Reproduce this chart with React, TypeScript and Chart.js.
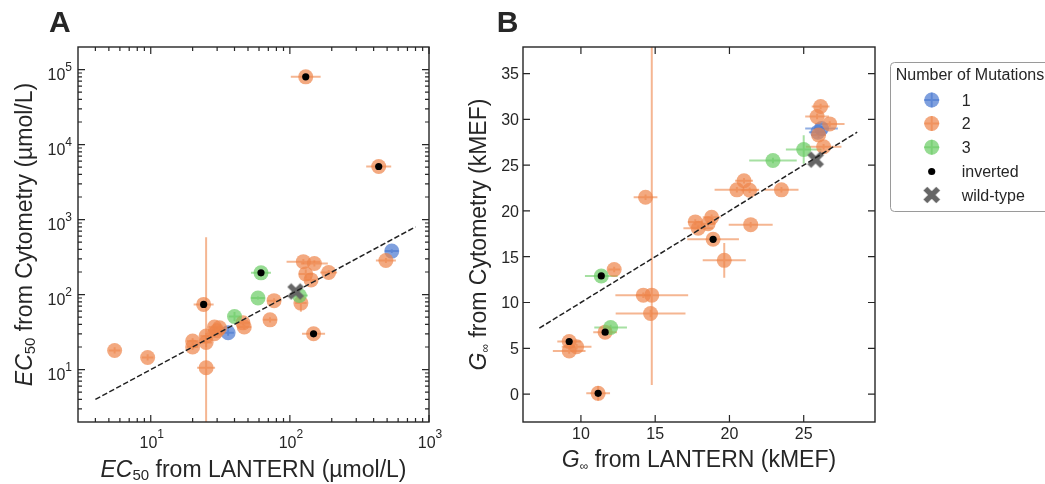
import React, { useEffect, useRef } from "react";
import { Chart, registerables } from "chart.js";

Chart.register(...registerables);

const FONT = '"Liberation Sans", Arial, Helvetica, sans-serif';
const INK = "#262626";
const BLUE = "72,120,208";
const ORANGE = "238,133,74";
const GREEN = "106,204,100";

// ---------- Panel A : EC50, log-log ----------
// [x from LANTERN, y from Cytometry, x error factor, y error factor]
const oneMutA: number[][] = [
  [36, 31, 1.1, 1.1],
  [540, 380, 1.12, 1.06],
];
const twoMutA: number[][] = [
  [5.5, 18, 1.1, 1.1],
  [9.5, 14.5, 1.1, 1.1],
  [20, 24, 1.1, 1.1],
  [20, 20, 1.1, 1.1],
  [25, 23, 1.1, 1.15],
  [25, 10.6, 1.16, 55],
  [24, 74, 1.18, 1.08],
  [25, 28, 1.1, 1.1],
  [28.7, 30, 1.1, 1.1],
  [28.7, 37, 1.1, 1.1],
  [31.2, 36, 1.1, 1.1],
  [30, 33, 1.1, 1.1],
  [46, 42, 1.12, 1.08],
  [47, 37, 1.12, 1.08],
  [72, 46, 1.12, 1.08],
  [77, 83, 1.12, 1.08],
  [125, 275, 1.32, 1.08],
  [150, 260, 1.25, 1.1],
  [130, 188, 1.12, 1.15],
  [142, 157, 1.1, 1.1],
  [190, 197, 1.15, 1.08],
  [120, 77, 1.1, 1.3],
  [148, 30, 1.21, 1.05],
  [490, 285, 1.18, 1.08],
  [130, 80000, 1.28, 1.05],
  [435, 5100, 1.23, 1.05],
];
const threeMutA: number[][] = [
  [40, 51, 1.1, 1.15],
  [59, 90, 1.12, 1.05],
  [62, 195, 1.18, 1.05],
  [117, 97, 1.15, 1.05],
];
const invertedA: number[][] = [[24, 74], [148, 30], [130, 80000], [435, 5100], [62, 195]];
const wildTypeA: number[][] = [[110, 110]];
const identityA: number[] = [4, 800];
const xTicksA: number[] = [10, 100, 1000];
const yTicksA: number[] = [10, 100, 1000, 10000, 100000];

// ---------- Panel B : G_inf, linear ----------
// [x from LANTERN, y from Cytometry, x error, y error down, y error up]
const oneMutB: number[][] = [
  [26.2, 29.0, 1.1, 0.25, 0.25],
  [25.95, 28.6, 0.6, 0.25, 0.25],
];
const twoMutB: number[][] = [
  [14.35, 21.5, 0.8, 0.3, 0.3],
  [14.2, 10.8, 0.5, 0.3, 0.3],
  [14.77, 10.8, 2.45, 9.8, 28],
  [14.69, 8.8, 2.35, 0.4, 0.4],
  [12.24, 13.6, 0.4, 0.3, 0.3],
  [11.63, 6.76, 0.8, 0.3, 0.3],
  [9.21, 5.74, 0.8, 0.3, 0.3],
  [9.71, 5.16, 1.0, 0.3, 0.3],
  [9.21, 4.7, 1.1, 0.3, 0.3],
  [11.16, 0.08, 0.8, 0.8, 0.8],
  [17.7, 18.8, 0.5, 0.3, 0.3],
  [17.9, 18.1, 1.0, 0.3, 0.3],
  [18.56, 18.6, 0.5, 0.3, 0.3],
  [18.8, 19.3, 0.6, 0.3, 0.3],
  [21.43, 18.5, 1.48, 0.3, 0.3],
  [18.9, 16.9, 1.74, 0.3, 0.3],
  [19.65, 14.6, 1.45, 1.9, 1.9],
  [20.98, 23.3, 0.6, 0.3, 0.3],
  [20.5, 22.3, 1.5, 0.3, 0.3],
  [21.36, 22.25, 0.6, 0.3, 0.3],
  [23.5, 22.3, 1.15, 0.3, 0.3],
  [26.34, 27.0, 1.2, 0.3, 0.3],
  [26.0, 28.3, 0.5, 0.3, 0.3],
  [26.75, 29.5, 1.0, 0.3, 0.3],
  [25.9, 30.3, 0.8, 0.3, 0.3],
  [26.14, 31.4, 0.6, 0.3, 0.3],
];
const threeMutB: number[][] = [
  [11.37, 12.9, 1.1, 0.3, 0.3],
  [12.0, 7.27, 1.1, 0.3, 0.3],
  [22.93, 25.5, 1.6, 0.3, 0.3],
  [25.0, 26.7, 1.2, 1.55, 1.55],
];
const invertedB: number[][] = [[11.37, 12.9], [11.63, 6.76], [9.21, 5.74], [11.16, 0.08], [18.9, 16.9]];
const wildTypeB: number[][] = [[25.8, 25.6]];
const identityB: number[] = [7.2, 28.6];
const xTicksB: number[] = [10, 15, 20, 25];
const yTicksB: number[] = [0, 5, 10, 15, 20, 25, 30, 35];

const legendTitle = "Number of Mutations";
const legendLabels: string[] = ["1", "2", "3", "inverted", "wild-type"];

type Part = { t: string; f: string; dy?: number };

function drawRich(ctx: CanvasRenderingContext2D, parts: Part[], x: number, y: number, align: string) {
  let w = 0;
  for (const p of parts) {
    ctx.font = p.f;
    w += ctx.measureText(p.t).width;
  }
  let cx = align === "center" ? x - w / 2 : align === "right" ? x - w : x;
  ctx.textAlign = "left";
  ctx.textBaseline = "alphabetic";
  for (const p of parts) {
    ctx.font = p.f;
    ctx.fillText(p.t, cx, y + (p.dy || 0));
    cx += ctx.measureText(p.t).width;
  }
}

function makeXImage(color: string) {
  const c = document.createElement("canvas");
  c.width = 18;
  c.height = 18;
  const g = c.getContext("2d")!;
  g.strokeStyle = color;
  g.lineWidth = 5.5;
  g.lineCap = "butt";
  g.beginPath();
  g.moveTo(2.6, 2.6);
  g.lineTo(15.4, 15.4);
  g.moveTo(15.4, 2.6);
  g.lineTo(2.6, 15.4);
  g.stroke();
  return c;
}

function errorBarPlugin(groups: { pts: number[][]; rgb: string }[], log: boolean) {
  return {
    id: "errbars",
    beforeDatasetsDraw(chart: any) {
      const { ctx, chartArea: a } = chart;
      const x = chart.scales.x;
      const y = chart.scales.y;
      ctx.save();
      ctx.beginPath();
      ctx.rect(a.left, a.top, a.right - a.left, a.bottom - a.top);
      ctx.clip();
      ctx.lineWidth = 2;
      for (const g of groups) {
        ctx.strokeStyle = `rgba(${g.rgb},0.6)`;
        for (const p of g.pts) {
          let x0, x1, y0, y1;
          if (log) {
            x0 = p[0] / p[2]; x1 = p[0] * p[2];
            y0 = p[1] / p[3]; y1 = p[1] * p[3];
          } else {
            x0 = p[0] - p[2]; x1 = p[0] + p[2];
            y0 = p[1] - p[3]; y1 = p[1] + p[4];
          }
          const px = x.getPixelForValue(p[0]);
          const py = y.getPixelForValue(p[1]);
          ctx.beginPath();
          ctx.moveTo(x.getPixelForValue(x0), py);
          ctx.lineTo(x.getPixelForValue(x1), py);
          ctx.moveTo(px, y.getPixelForValue(y0));
          ctx.lineTo(px, y.getPixelForValue(y1));
          ctx.stroke();
        }
      }
      ctx.restore();
    },
  };
}

function logMinors(min: number, max: number) {
  const out: number[] = [];
  for (let d = Math.pow(10, Math.floor(Math.log10(min))); d < max; d *= 10) {
    for (let k = 2; k <= 9; k++) {
      const v = k * d;
      if (v > min * 1.001 && v < max * 0.999) out.push(v);
    }
  }
  return out;
}

function decorPlugin(cfg: any) {
  return {
    id: "decor",
    afterDraw(chart: any) {
      const { ctx, chartArea: a } = chart;
      const x = chart.scales.x;
      const y = chart.scales.y;
      ctx.save();
      ctx.strokeStyle = INK;
      ctx.fillStyle = INK;
      // frame
      ctx.lineWidth = 1.4;
      ctx.strokeRect(a.left, a.top, a.right - a.left, a.bottom - a.top);
      // ticks
      ctx.lineWidth = 1.2;
      const xt = (v: number, len: number) => {
        const px = x.getPixelForValue(v);
        ctx.beginPath();
        ctx.moveTo(px, a.bottom); ctx.lineTo(px, a.bottom - len);
        ctx.moveTo(px, a.top); ctx.lineTo(px, a.top + len);
        ctx.stroke();
      };
      const yt = (v: number, len: number) => {
        const py = y.getPixelForValue(v);
        ctx.beginPath();
        ctx.moveTo(a.left, py); ctx.lineTo(a.left + len, py);
        ctx.moveTo(a.right, py); ctx.lineTo(a.right - len, py);
        ctx.stroke();
      };
      cfg.xTicks.forEach((v: number) => xt(v, 7));
      cfg.yTicks.forEach((v: number) => yt(v, 7));
      if (cfg.log) {
        logMinors(x.min, x.max).forEach((v) => xt(v, 4));
        logMinors(y.min, y.max).forEach((v) => yt(v, 4));
      }
      // tick labels
      const main = `16px ${FONT}`;
      const sup = `12px ${FONT}`;
      cfg.xTicks.forEach((v: number) => {
        const px = x.getPixelForValue(v);
        if (cfg.log) {
          drawRich(ctx, [{ t: "10", f: main }, { t: String(Math.round(Math.log10(v))), f: sup, dy: -10 }], px + 1, a.bottom + 26, "center");
        } else {
          drawRich(ctx, [{ t: String(v), f: main }], px, a.bottom + 17, "center");
        }
      });
      cfg.yTicks.forEach((v: number) => {
        const py = y.getPixelForValue(v);
        if (cfg.log) {
          drawRich(ctx, [{ t: "10", f: main }, { t: String(Math.round(Math.log10(v))), f: sup, dy: -8.5 }], a.left - 6, py + 10, "right");
        } else {
          drawRich(ctx, [{ t: String(v), f: main }], a.left - 4, py + 5.8, "right");
        }
      });
      // axis titles
      const cx = (a.left + a.right) / 2;
      const cy = (a.top + a.bottom) / 2;
      drawRich(ctx, cfg.xTitle, cx, a.bottom + cfg.xTitleOff, "center");
      ctx.save();
      ctx.translate(a.left - cfg.yTitleOff, cy);
      ctx.rotate(-Math.PI / 2);
      drawRich(ctx, cfg.yTitle, 0, 0, "center");
      ctx.restore();
      // panel letter
      drawRich(ctx, [{ t: cfg.letter, f: `bold 30px ${FONT}` }], a.left - cfg.letterOff, 32, "left");
      // legend
      if (cfg.legend) {
        const lx = a.right + 15;
        const top = 62;
        const bottom = 211;
        ctx.strokeStyle = "#9a9a9a";
        ctx.lineWidth = 1;
        ctx.beginPath();
        const r = 4;
        const rx = lx + 0.5;
        ctx.moveTo(chart.width + 10, top + 0.5);
        ctx.lineTo(rx + r, top + 0.5);
        ctx.arcTo(rx, top + 0.5, rx, top + 0.5 + r, r);
        ctx.lineTo(rx, bottom - r);
        ctx.arcTo(rx, bottom + 0.5, rx + r, bottom + 0.5, r);
        ctx.lineTo(chart.width + 10, bottom + 0.5);
        ctx.stroke();
        ctx.fillStyle = INK;
        drawRich(ctx, [{ t: legendTitle, f: `16px ${FONT}` }], lx + 5.7, 80, "left");
        const mx = lx + 41.7;
        const tx = lx + 71.7;
        const rows = [100, 123.5, 147.3, 171.5, 195];
        const rgbs = [BLUE, ORANGE, GREEN];
        legendLabels.forEach((lab, i) => {
          const ry = rows[i];
          if (i < 3) {
            ctx.strokeStyle = `rgba(${rgbs[i]},0.6)`;
            ctx.lineWidth = 2;
            ctx.beginPath();
            ctx.moveTo(mx - 7.5, ry); ctx.lineTo(mx + 7.5, ry);
            ctx.moveTo(mx, ry - 7.5); ctx.lineTo(mx, ry + 7.5);
            ctx.stroke();
            ctx.fillStyle = `rgba(${rgbs[i]},0.7)`;
            ctx.beginPath();
            ctx.arc(mx, ry, 7.5, 0, Math.PI * 2);
            ctx.fill();
          } else if (i === 3) {
            ctx.fillStyle = "#000";
            ctx.beginPath();
            ctx.arc(mx, ry, 3.6, 0, Math.PI * 2);
            ctx.fill();
          } else {
            ctx.drawImage(cfg.xImg, mx - 9, ry - 9);
          }
          ctx.fillStyle = INK;
          drawRich(ctx, [{ t: lab, f: `16px ${FONT}` }], tx, ry + 5.8, "left");
        });
      }
      ctx.restore();
    },
  };
}

function circles(pts: number[][], rgb: string, order: number) {
  return {
    data: pts.map((p) => ({ x: p[0], y: p[1] })),
    backgroundColor: `rgba(${rgb},0.7)`,
    borderWidth: 0,
    pointRadius: 7.5,
    pointHoverRadius: 7.5,
    order,
  };
}

function buildConfig(p: any) {
  const xImg = makeXImage("#666666");
  return {
    type: "scatter",
    data: {
      datasets: [
        {
          data: [{ x: p.identity[0], y: p.identity[0] }, { x: p.identity[1], y: p.identity[1] }],
          showLine: true,
          borderColor: "#222222",
          borderWidth: 1.5,
          borderDash: [5.5, 2.4],
          pointRadius: 0,
          pointHoverRadius: 0,
          order: 0,
        },
        { data: p.wild.map((q: number[]) => ({ x: q[0], y: q[1] })), pointStyle: xImg, pointRadius: 9, order: 1 },
        {
          data: p.inverted.map((q: number[]) => ({ x: q[0], y: q[1] })),
          backgroundColor: "#000000",
          borderWidth: 0,
          pointRadius: 3.6,
          order: 2,
        },
        circles(p.three, GREEN, 3),
        circles(p.two, ORANGE, 4),
        circles(p.one, BLUE, 5),
      ],
    },
    options: {
      responsive: false,
      animation: false,
      events: [],
      layout: { padding: { top: 47, right: p.padRight, left: 0, bottom: 0 } },
      plugins: { legend: { display: false }, tooltip: { enabled: false } },
      scales: {
        x: {
          type: p.log ? "logarithmic" : "linear",
          min: p.xMin,
          max: p.xMax,
          ticks: { display: false },
          grid: { display: false },
          border: { display: false },
          afterFit: (s: any) => { s.height = 62; },
        },
        y: {
          type: p.log ? "logarithmic" : "linear",
          min: p.yMin,
          max: p.yMax,
          ticks: { display: false },
          grid: { display: false },
          border: { display: false },
          afterFit: (s: any) => { s.width = p.left; },
        },
      },
    },
    plugins: [
      errorBarPlugin(
        [
          { pts: p.one, rgb: BLUE },
          { pts: p.two, rgb: ORANGE },
          { pts: p.three, rgb: GREEN },
        ],
        p.log
      ),
      decorPlugin({ ...p.decor, xImg }),
    ],
  };
}

export default function App() {
  const refA = useRef<HTMLCanvasElement>(null);
  const refB = useRef<HTMLCanvasElement>(null);
  useEffect(() => {
    const big = `23px ${FONT}`;
    const bigI = `italic 23px ${FONT}`;
    const cfgA = buildConfig({
      log: true,
      one: oneMutA, two: twoMutA, three: threeMutA,
      inverted: invertedA, wild: wildTypeA, identity: identityA,
      xMin: 3, xMax: 1000, yMin: 2, yMax: 2e5,
      left: 78, padRight: 31,
      decor: {
        log: true, xTicks: xTicksA, yTicks: yTicksA, letter: "A", letterOff: 29,
        xTitle: [{ t: "EC", f: bigI }, { t: "50", f: `15px ${FONT}`, dy: 3 }, { t: " from LANTERN (µmol/L)", f: big }],
        yTitle: [{ t: "EC", f: bigI }, { t: "50", f: `15px ${FONT}`, dy: 3 }, { t: " from Cytometry (µmol/L)", f: big }],
        xTitleOff: 55, yTitleOff: 46, legend: false,
      },
    });
    const cfgB = buildConfig({
      log: false,
      one: oneMutB, two: twoMutB, three: threeMutB,
      inverted: invertedB, wild: wildTypeB, identity: identityB,
      xMin: 6.1, xMax: 29.8, yMin: -3.05, yMax: 37.9,
      left: 63, padRight: 170,
      decor: {
        log: false, xTicks: xTicksB, yTicks: yTicksB, letter: "B", letterOff: 26.3,
        xTitle: [{ t: "G", f: bigI }, { t: "∞", f: `12px ${FONT}`, dy: 3 }, { t: " from LANTERN (kMEF)", f: big }],
        yTitle: [{ t: "G", f: bigI }, { t: "∞", f: `12px ${FONT}`, dy: 3 }, { t: " from Cytometry (kMEF)", f: big }],
        xTitleOff: 45, yTitleOff: 37, legend: true,
      },
    });
    const cA = new Chart(refA.current as any, cfgA as any);
    const cB = new Chart(refB.current as any, cfgB as any);
    return () => {
      cA.destroy();
      cB.destroy();
    };
  }, []);
  return (
    <div style={{ position: "absolute", left: 0, top: 0, width: 1045, height: 484, background: "#ffffff", overflow: "hidden" }}>
      <canvas ref={refA} width={460} height={484} style={{ position: "absolute", left: 0, top: 0, width: 460, height: 484 }} />
      <canvas ref={refB} width={585} height={484} style={{ position: "absolute", left: 460, top: 0, width: 585, height: 484 }} />
    </div>
  );
}
